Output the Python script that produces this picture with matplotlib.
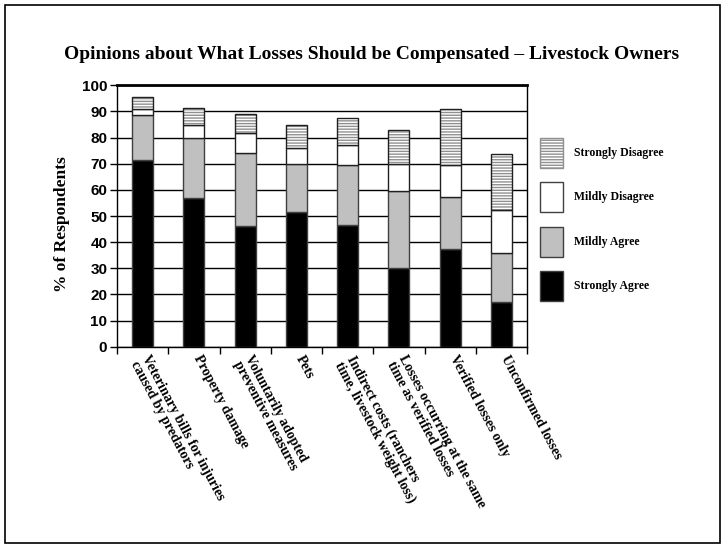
import matplotlib
matplotlib.use("Agg")
from matplotlib import pyplot as plt
from matplotlib.patches import Rectangle, Patch
import numpy as np

categories = ["Veterinary bills for injuries\ncaused by predators",
              "Property damage",
              "Voluntarily adopted\npreventive measures",
              "Pets",
              "Indirect costs (ranchers\ntime, livestock weight loss)",
              "Losses occurring at the same\ntime as verified losses",
              "Verified losses only",
              "Unconfirmed losses"]

strongly_agree = [71.4, 56.9, 46.2, 51.5, 46.6, 30.0, 37.3, 17.1]
mildly_agree = [17.1, 22.8, 27.8, 18.5, 23.0, 29.6, 20.1, 18.7]
mildly_disagree = [2.3, 5.0, 7.8, 5.9, 7.4, 10.3, 12.2, 16.4]
strongly_disagree = [4.6, 6.5, 7.1, 9.0, 10.4, 12.9, 21.5, 21.6]

serif = "Liberation Serif"
sans = "Liberation Sans"

fig = plt.figure(figsize=(7.25, 5.48), dpi=100)
ax = fig.add_axes([0.1614, 0.3673, 0.5655, 0.477])

x = np.arange(len(categories))
width = 0.41
sa = np.array(strongly_agree)
ma = np.array(mildly_agree)
md = np.array(mildly_disagree)
sd = np.array(strongly_disagree)

ax.set_axisbelow(True)
ax.yaxis.grid(True, color="black", linewidth=1.0)

ax.bar(x, sa, width, color="black", edgecolor="#404040", linewidth=1, zorder=3)
ax.bar(x, ma, width, bottom=sa, color="#c0c0c0", edgecolor="#404040", linewidth=1, zorder=3)
ax.bar(x, md, width, bottom=sa + ma, color="white", edgecolor="#202020", linewidth=1, zorder=3)
ax.bar(x, sd, width, bottom=sa + ma + md, color="white", edgecolor="#909090",
       hatch="------", linewidth=0, zorder=3)
ax.bar(x, sd, width, bottom=sa + ma + md, color="none", edgecolor="#202020", linewidth=1, zorder=4)

ax.set_xlim(-0.5, len(categories) - 0.5)
ax.set_ylim(0, 100)
ax.set_yticks(np.arange(0, 101, 10))
ax.set_xticks(np.arange(-0.5, len(categories), 1.0))
ax.set_xticklabels([])
ax.tick_params(axis="x", direction="out", length=5, width=1)
ax.tick_params(axis="y", direction="out", length=5, width=1, pad=2)
for lab in ax.get_yticklabels():
    lab.set_fontfamily(sans)
    lab.set_fontweight("bold")
    lab.set_fontsize(11)
for sp in ax.spines.values():
    sp.set_linewidth(1)
ax.spines["top"].set_linewidth(2)

for i, name in enumerate(categories):
    ax.text(i + 0.16, -2.5, name, rotation=-62, rotation_mode="anchor",
            ha="left", va="top", fontfamily=serif, fontweight="bold",
            fontsize=10, linespacing=0.95)

ax.set_ylabel("% of Respondents", fontfamily=serif, fontweight="bold", fontsize=12.5)
ax.yaxis.set_label_coords(-0.115, 0.47)

fig.text(0.512, 0.9, "Opinions about What Losses Should be Compensated \u2013 Livestock Owners",
         ha="center", va="center", fontfamily=serif, fontweight="bold", fontsize=14)

handles = [Patch(facecolor="white", edgecolor="#909090", hatch="------", label="Strongly Disagree"),
           Patch(facecolor="white", edgecolor="#404040", label="Mildly Disagree"),
           Patch(facecolor="#c0c0c0", edgecolor="#404040", label="Mildly Agree"),
           Patch(facecolor="black", edgecolor="#404040", label="Strongly Agree")]
leg = fig.legend(handles=handles, loc="upper left", bbox_to_anchor=(0.730, 0.768),
                 frameon=False, prop={"family": serif, "weight": "bold", "size": 8.5},
                 handlelength=2.0, handleheight=3.5, labelspacing=1.25, handletextpad=0.9)

fig.patches.append(Rectangle((0.007, 0.009), 0.986, 0.982, transform=fig.transFigure,
                             fill=False, edgecolor="black", linewidth=1.2))

fig.savefig("out.png", dpi=100)
